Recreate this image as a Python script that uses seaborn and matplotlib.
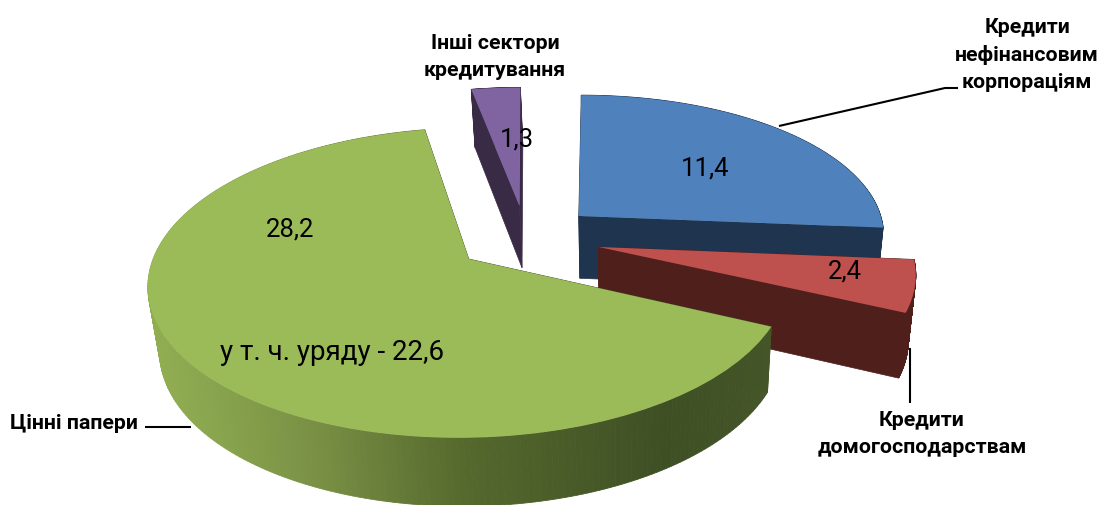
import numpy as np
import matplotlib
matplotlib.use("Agg")
import matplotlib.pyplot as plt
from matplotlib.transforms import Transform
from matplotlib.colors import to_rgb
import seaborn as sns

# ---- data ----
sectors = ["Кредити нефінансовим корпораціям", "Кредити домогосподарствам",
           "Цінні папери", "Інші сектори кредитування"]
values = [11.4, 2.4, 28.2, 1.3]
value_labels = ["11,4", "2,4", "28,2", "1,3"]
sub_label = "у т. ч. уряду - 22,6"
top_colors = ["#4F81BD", "#BE504D", "#9BBB59", "#8064A2"]
side_colors = ["#1F344F", "#4F1F1C", None, "#392B46"]
green_side_x = [147, 200, 306, 460, 663, 770]
green_side_c = ["#92AE52", "#8AA64E", "#7A9145", "#55692D", "#3E4F24", "#445528"]

# ---- projection of the tilted pie onto the picture ----
CX, CY, AX_, BY, P = 526.0, 239.0, 309.0, 145.0, 0.15
DEPTH, PZ, VX, VS = 63.0, 0.07, 620.0, 0.975
SHEAR = 0.035


def project(xy, z=0.0):
    xy = np.asarray(xy, float)
    X, Y = xy[..., 0], xy[..., 1]
    # the far right quadrant leans outwards in the perspective of the original
    X = X + SHEAR * np.clip(Y, 0, None) * np.clip(X / 0.15, 0, 1)
    w = 1 + P * Y
    sx = CX + AX_ * X / w
    sy = CY - BY * Y / w
    if z:
        sy = sy + z * DEPTH / (1 + PZ * Y)
        sx = VX + (sx - VX) * (1 - z * (1 - VS))
    return np.stack([sx, sy], axis=-1)


class TopFace(Transform):
    input_dims = output_dims = 2
    is_affine = False
    has_inverse = False

    def transform_non_affine(self, values):
        return project(values)


sns.set_theme(style="white")
plt.rcParams["font.family"] = ["Roboto", "DejaVu Sans"]
fig = plt.figure(figsize=(11.04, 5.06), dpi=100)
ax = fig.add_axes([0, 0, 1, 1])

wedges, _ = ax.pie(values, startangle=90, counterclock=False,
                   explode=[0.23, 0.24, 0.23, 0.23], colors=sns.color_palette(top_colors),
                   wedgeprops=dict(linewidth=0))
ax.set_aspect("auto")
ax.set_xlim(0, 1104)
ax.set_ylim(506, 0)
ax.axis("off")

draw_order = {0: 10, 1: 20, 3: 25, 2: 30}
top_tr = TopFace() + ax.transData
for i, w in enumerate(wedges):
    z0 = draw_order[i]
    w.set_transform(top_tr)
    w.set_zorder(z0 + 2)
    w.set_clip_on(False)
    c = np.array(w.center)
    t = np.radians(np.linspace(w.theta1, w.theta2, 241))
    rim = c + w.r * np.stack([np.cos(t), np.sin(t)], axis=1)
    top = project(rim)
    bot = project(rim, 1.0)
    tip_t = project(c)
    tip_b = project(c, 1.0)
    # radial cut faces
    col = side_colors[i] if side_colors[i] else green_side_c[-1]
    for k in (0, -1):
        ax.fill([tip_t[0], top[k, 0], bot[k, 0], tip_b[0]],
                [tip_t[1], top[k, 1], bot[k, 1], tip_b[1]],
                color=col, lw=0.5, zorder=z0)
    # rim wall
    for j in range(len(t) - 1):
        if side_colors[i]:
            cc = side_colors[i]
        else:
            xm = top[j, 0]
            rgb = np.array([to_rgb(h) for h in green_side_c])
            cc = [np.interp(xm, green_side_x, rgb[:, n]) for n in range(3)]
        ax.fill([top[j, 0], top[j + 1, 0], bot[j + 1, 0], bot[j, 0]],
                [top[j, 1], top[j + 1, 1], bot[j + 1, 1], bot[j, 1]],
                color=cc, lw=0.6, zorder=z0 + 1)

# value labels
val_pos = [(705, 168), (845, 271), (290, 230), (517, 139)]
for s, (x, y) in zip(value_labels, val_pos):
    ax.text(x, y, s, ha="center", va="center", fontsize=18.5, color="black", zorder=50)
ax.text(332, 352, sub_label, ha="center", va="center", fontsize=20, color="black", zorder=50)

# category labels
lab = dict(fontsize=15.4, fontweight="bold", color="black", zorder=50, linespacing=1.5)
ax.text(1027, 55, "Кредити\nнефінансовим\nкорпораціям", ha="center", va="center", **lab)
ax.text(495, 57, "Інші сектори\nкредитування", ha="center", va="center", **lab)
ax.text(922, 434, "Кредити\nдомогосподарствам", ha="center", va="center", **lab)
ax.text(10, 424, "Цінні папери", ha="left", va="center", **lab)

# leader lines
ln = dict(color="black", lw=1.5, zorder=40, solid_capstyle="butt")
ax.plot([779, 945, 958], [127, 89, 89], **ln)
ax.plot([910, 910], [349, 404], **ln)
ax.plot([145, 191], [428, 428], **ln)

fig.savefig("out.png", dpi=100)
